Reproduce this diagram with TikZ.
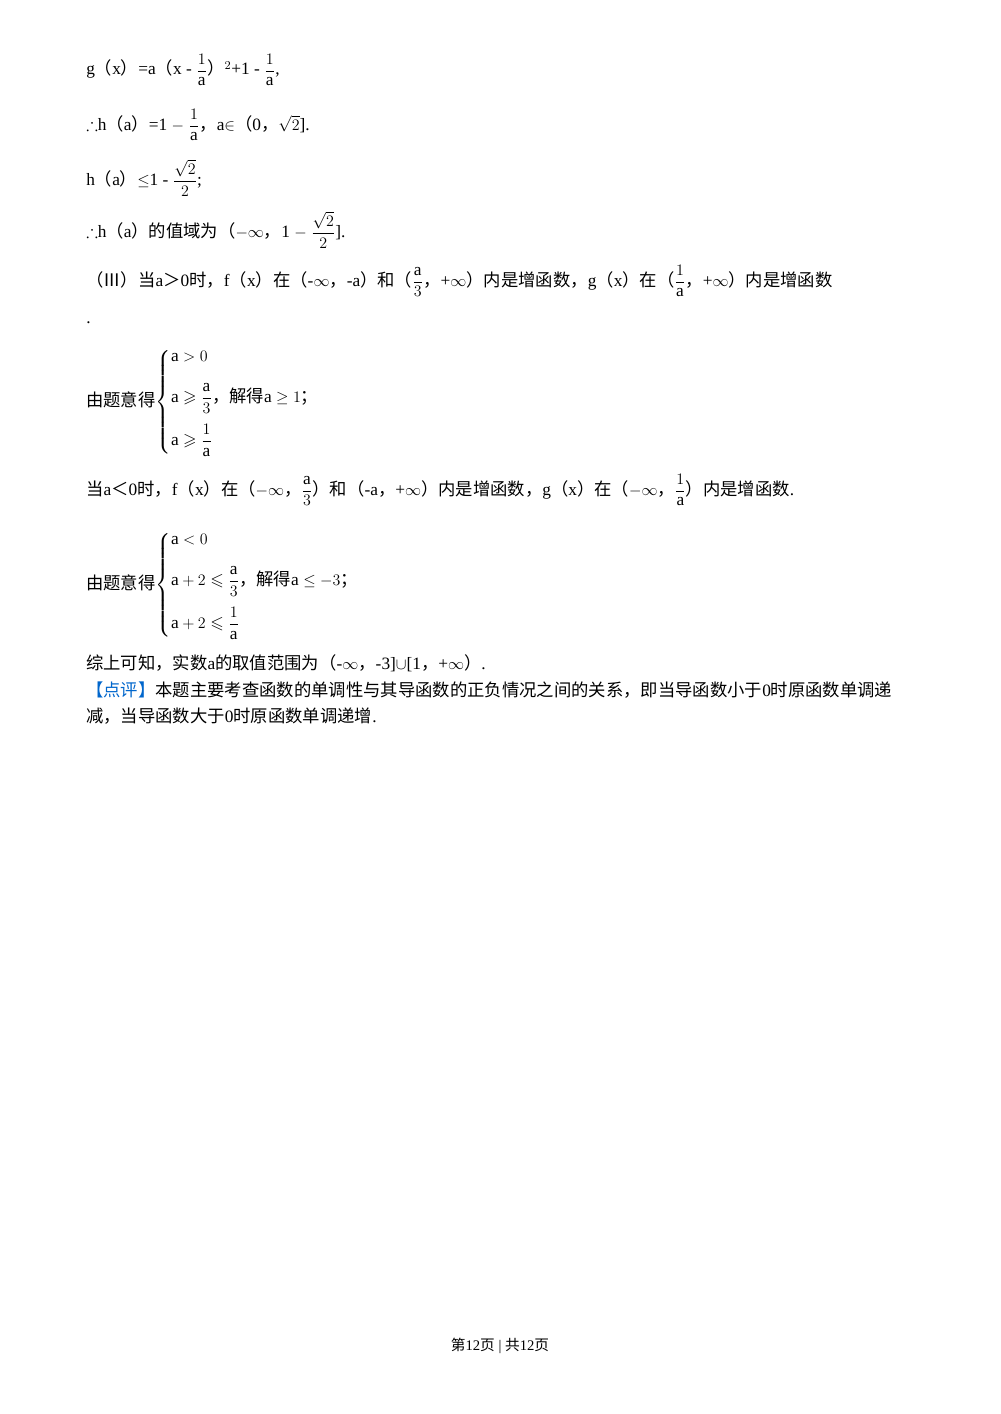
\documentclass[tikz,border=0pt]{standalone}
\usepackage{amsmath,amssymb}
\usepackage{fontspec}
\setmainfont{Liberation Serif}
\newfontfamily\cjk{Noto Sans CJK SC}
\newcommand{\zh}[1]{{\cjk #1}}
\newcommand{\ra}{\mathrm{a}}
\definecolor{pb}{RGB}{0,102,204}
\begin{document}
\begin{tikzpicture}[x=0.75pt,y=-0.75pt,T/.style={anchor=west,inner sep=0pt,font=\fontsize{13}{15}\selectfont}]
\useasboundingbox[fill=white] (0,0) rectangle (1000,1414);
\node[T] (l1) at (86,70) {g\zh{（}x\zh{）}=a\zh{（}x - $\dfrac1\ra$\zh{）}$^2$+1 - $\dfrac1\ra$,};
\node[T] (l2) at (86,125) {$\therefore$h\zh{（}a\zh{）}=1 $-$ $\dfrac1\ra$\zh{，}a$\in$\zh{（}0\zh{，}$\sqrt2$].};
\node[T] (l3) at (86,178) {h\zh{（}a\zh{）}$\leq$1 - $\dfrac{\sqrt2}2$;};
\node[T] (l4) at (86,230) {$\therefore$h\zh{（}a\zh{）的值域为（}$-\infty$\zh{，}1 $-$ $\dfrac{\sqrt2}2$].};
\node[T] (l5) at (86,281) {\zh{（Ⅲ）当}a\zh{＞}0\zh{时，}f\zh{（}x\zh{）在（}-$\infty$\zh{，}-a\zh{）和（}$\dfrac \ra3$\zh{，}+$\infty$\zh{）内是增函数，}g\zh{（}x\zh{）在（}$\dfrac1\ra$\zh{，}+$\infty$\zh{）内是增函数}};
\node[T] (l6) at (86,323) {.};
\node[T] (s1) at (86,402) {\zh{由题意得}$\left\{\begin{array}{@{}l@{}} \ra>0\\[12pt] \ra\geqslant\dfrac \ra3\text{\zh{，解得}a}\geq1\text{\zh{；}}\\[12pt] \ra\geqslant\dfrac1\ra\end{array}\right.$};
\node[T] (l7) at (86,490) {\zh{当}a\zh{＜}0\zh{时，}f\zh{（}x\zh{）在（}$-\infty$\zh{，}$\dfrac \ra3$\zh{）和（}-a\zh{，}+$\infty$\zh{）内是增函数，}g\zh{（}x\zh{）在（}$-\infty$\zh{，}$\dfrac1\ra$\zh{）内是增函数}.};
\node[T] (s2) at (86,585) {\zh{由题意得}$\left\{\begin{array}{@{}l@{}} \ra<0\\[12pt] \ra+2\leqslant\dfrac \ra3\text{\zh{，解得}a}\leq-3\text{\zh{；}}\\[12pt] \ra+2\leqslant\dfrac1\ra\end{array}\right.$};
\node[T] (l8) at (86,663) {\zh{综上可知，实数}a\zh{的取值范围为（}-$\infty$\zh{，}-3]$\cup$[1\zh{，}+$\infty$\zh{）}.};
\node[T] (l9) at (86,690) {\textcolor{pb}{\zh{【点评】}}\zh{本题主要考查函数的单调性与其导函数的正负情况之间的关系，即当导函数小于}0\zh{时原函数单调递}};
\node[T] (l10) at (86,716) {\zh{减，当导函数大于}0\zh{时原函数单调递增}.};
\node[inner sep=0pt,font=\fontsize{11}{13}\selectfont] (ft) at (500,1346) {\zh{第}12\zh{页} | \zh{共}12\zh{页}};
\end{tikzpicture}
\end{document}
